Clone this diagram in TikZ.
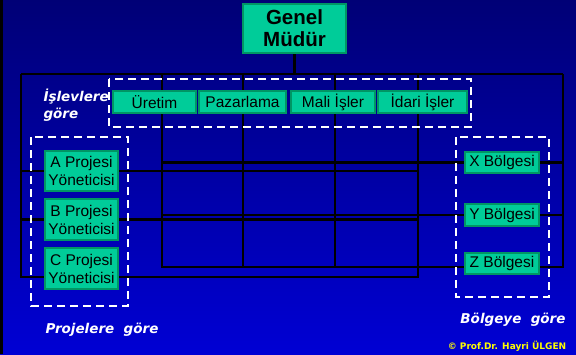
\documentclass[tikz,border=0pt]{standalone}
\usepackage{fontspec}
\setmainfont{Liberation Sans}
\newfontfamily\comicfont{DejaVu Sans}
\usetikzlibrary{positioning}
\definecolor{slidetop}{RGB}{0, 0, 118}
\definecolor{slidebottom}{RGB}{0, 0, 212}
\definecolor{boxgreen}{RGB}{0, 204, 153}
\definecolor{boxedge}{RGB}{0, 150, 100}
\definecolor{signyellow}{RGB}{255, 255, 0}
\pgfdeclarelayer{back}
\pgfdeclarelayer{wires}
\pgfsetlayers{back,wires,main}

\begin{document}
\begin{tikzpicture}[x=1pt, y=-1pt,
                    box/.style={draw=boxedge, line width=1.4pt, fill=boxgreen, align=center, inner sep=1pt, outer sep=0pt,
                                minimum height=22pt, font=\fontsize{15.5}{18}\selectfont},
                    wire/.style={black, line width=2.4pt},
                    group/.style={white, line width=2pt, dash pattern=on 8pt off 5pt},
                    note/.style={text=white, font=\comicfont\bfseries\itshape\fontsize{13.5}{17}\selectfont}
                ]
                \useasboundingbox (0,0) rectangle (576,354);
                \begin{pgfonlayer}{back}
                \shade[top color=slidetop, bottom color=slidebottom] (0,0) rectangle (576,354);
                \fill[black] (0,0) rectangle (3,354);
                \end{pgfonlayer}

                % --- Genel Mudur ---
                \node[box, minimum width=103pt, minimum height=49pt, font=\bfseries\fontsize{20.5}{22}\selectfont] (gm) at (294.5,28.5) {Genel\\Müdür};

                % --- Islevlere gore ---
                \node[box, minimum width=83pt] (uretim) at (154.5,102) {Üretim};
                \node[box, minimum width=87pt, right=3pt of uretim] (pazarlama) {Pazarlama};
                \node[box, minimum width=84pt, right=5pt of pazarlama] (mali) {Mali İşler};
                \node[box, minimum width=89pt, right=3pt of mali] (idari) {İdari İşler};
                \draw[group] (109,79) rectangle (471,127);
                \node[note, anchor=north west, align=left] (islev) at (40,85) {İşlevlere\\göre};

                % --- Projelere gore ---
                \node[box, minimum width=73pt, minimum height=40pt] (pa) at (81.5,171) {A Projesi\\Yöneticisi};
                \node[box, minimum width=73pt, minimum height=41pt, below=8pt of pa] (pb) {B Projesi\\Yöneticisi};
                \node[box, minimum width=73pt, minimum height=41pt, below=8pt of pb] (pc) {C Projesi\\Yöneticisi};
                \draw[group] (31,137) rectangle (128,306);
                \node[note] (proj) at (102,330) {Projelere\ \ göre};

                % --- Bolgeye gore ---
                \node[box, minimum width=74pt, minimum height=21pt] (rx) at (502,162.5) {X Bölgesi};
                \node[box, minimum width=74pt, below=31pt of rx] (ry) {Y Bölgesi};
                \node[box, minimum width=74pt, minimum height=21pt, below=27pt of ry] (rz) {Z Bölgesi};
                \draw[group] (456,137) rectangle (549,297);
                \node[note] (bolge) at (513,320) {Bölgeye\ \ göre};

                \node[text=signyellow, font=\comicfont\bfseries\fontsize{9}{10}\selectfont] (telif) at (507,346) {© Prof.Dr. Hayri ÜLGEN};

                % --- wires ---
                \coordinate (tl) at (21,74);
                \coordinate (tr) at (563,74);
                \coordinate (k1) at (162,74);
                \coordinate (k2) at (243,74);
                \coordinate (k3) at (335,74);
                \coordinate (k4) at (418,74);
                \coordinate (rowc) at (0,277);
                \coordinate (rowz) at (0,267);
                \begin{pgfonlayer}{wires}
                \draw[wire] (gm.south) -- (gm.south |- tl);
                \draw[wire] (tl) -- (tr);
                \draw[wire] (tl) -- (tl |- rowc) -- (k4 |- rowc) -- (k4);
                \draw[wire] (tl |- pa) -- (k4 |- pa);
                \draw[wire] (tl |- pb) -- (k4 |- pb);
                \draw[wire] (tr) -- (tr |- rowz) -- (k1 |- rowz) -- (k1);
                \draw[wire] (k1 |- rx) -- (tr |- rx);
                \draw[wire] (k1 |- ry) -- (tr |- ry);
                \draw[wire] (k2) -- (k2 |- rowz);
                \draw[wire] (k3) -- (k3 |- rowz);
                \end{pgfonlayer}

                \end{tikzpicture}
\end{document}
